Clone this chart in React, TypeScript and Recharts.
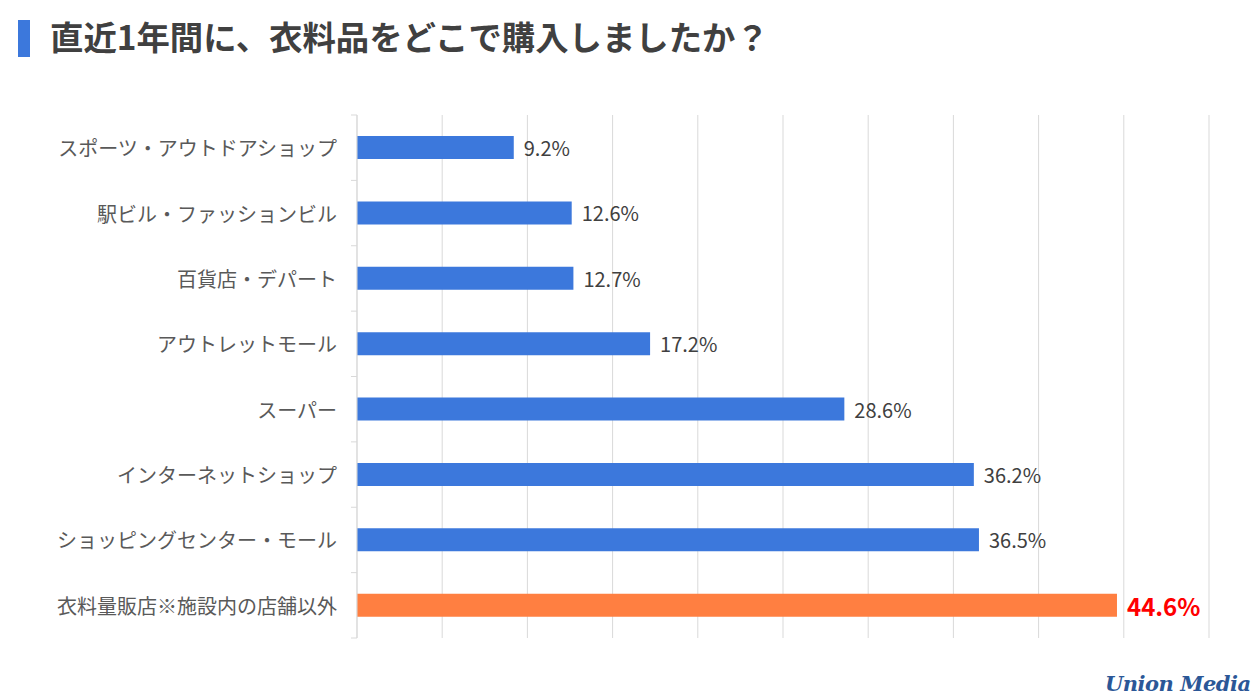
import { Bar, BarChart, CartesianGrid, Cell, LabelList, XAxis, YAxis } from "recharts"

const categories = [
  "スポーツ・アウトドアショップ",
  "駅ビル・ファッションビル",
  "百貨店・デパート",
  "アウトレットモール",
  "スーパー",
  "インターネットショップ",
  "ショッピングセンター・モール",
  "衣料量販店※施設内の店舗以外",
]
const values = [9.2, 12.6, 12.7, 17.2, 28.6, 36.2, 36.5, 44.6]
const xTicks = [0, 5, 10, 15, 20, 25, 30, 35, 40, 45, 50]
const highlightIndex = 7

const data = categories.map((name, i) => ({ name, value: values[i] }))

const FONT = '"Noto Sans CJK JP", "Noto Sans", sans-serif'
const BLUE = "#3c78dc"
const ORANGE = "#ff7f41"
const GRID = "#d9d9d9"

function CategoryTick(props: any) {
  const { x, y, payload, index } = props
  const half = 523 / categories.length / 2
  return (
    <g>
      <text x={x - 20} y={y} textAnchor="end" dominantBaseline="central" fontSize={20} fill="#595959" fontFamily={FONT}>
        {payload.value}
      </text>
      <line x1={x - 6} x2={x} y1={y - half} y2={y - half} stroke={GRID} />
      {index === categories.length - 1 && <line x1={x - 6} x2={x} y1={y + half} y2={y + half} stroke={GRID} />}
    </g>
  )
}

function ValueLabel(props: any) {
  const { x, y, width, height, value, index } = props
  const hi = index === highlightIndex
  return (
    <text
      x={x + width + 10}
      y={y + height / 2}
      dominantBaseline="central"
      fontSize={hi ? 24 : 20}
      fontWeight={hi ? 700 : 400}
      fill={hi ? "#ff0000" : "#404040"}
      fontFamily={FONT}
    >
      {`${value.toFixed(1)}%`}
    </text>
  )
}

export default function App() {
  return (
    <div style={{ position: "absolute", left: 0, top: 0, width: 1251, height: 699, background: "#fff", fontFamily: FONT }}>
      <div style={{ position: "absolute", left: 18, top: 20, width: 12, height: 37, background: BLUE }} />
      <div
        style={{
          position: "absolute",
          left: 50,
          top: 12,
          fontSize: 33.4,
          fontWeight: 700,
          color: "#404040",
          lineHeight: "48px",
          whiteSpace: "nowrap",
        }}
      >
        直近1年間に、衣料品をどこで購入しましたか？
      </div>
      <BarChart
        width={1251}
        height={699}
        data={data}
        layout="vertical"
        margin={{ top: 115, right: 42, bottom: 61, left: 0 }}
        barCategoryGap={21}
      >
        <CartesianGrid horizontal={false} stroke={GRID} />
        <XAxis type="number" domain={[0, 50]} ticks={xTicks} hide />
        <YAxis
          type="category"
          dataKey="name"
          width={357}
          axisLine={{ stroke: GRID }}
          tickLine={false}
          tickSize={0}
          tickMargin={0}
          tick={<CategoryTick />}
          interval={0}
        />
        <Bar dataKey="value" isAnimationActive={false}>
          {data.map((d, i) => (
            <Cell key={d.name} fill={i === highlightIndex ? ORANGE : BLUE} />
          ))}
          <LabelList dataKey="value" content={<ValueLabel />} />
        </Bar>
      </BarChart>
      <div
        style={{
          position: "absolute",
          left: 1105,
          top: 671,
          fontSize: 21,
          fontStyle: "italic",
          fontWeight: 700,
          fontFamily: '"DejaVu Serif", serif',
          color: "#2b5797",
          whiteSpace: "nowrap",
          letterSpacing: -0.5,
        }}
      >
        Union Media
      </div>
    </div>
  )
}
